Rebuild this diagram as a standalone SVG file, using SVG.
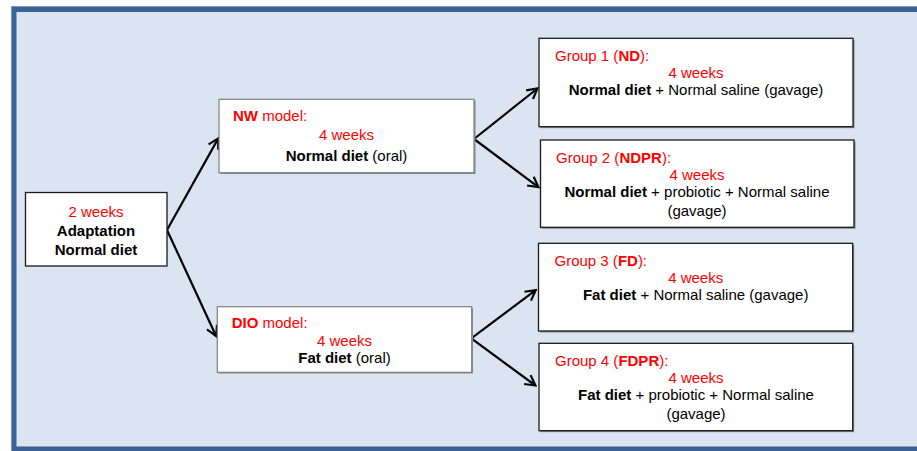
<svg xmlns="http://www.w3.org/2000/svg" width="917" height="451" viewBox="0 0 917 451">
<defs>
<style>
.t{font-family:"Liberation Sans",Arial,sans-serif;font-size:15px;fill:#000}
.r{fill:#ff0000}
.b{font-weight:bold}
.c{text-anchor:middle}
.gb{fill:#fff;stroke:#1a1a1a;stroke-width:1.3}
.mb{fill:#fff;stroke:#7f7f7f;stroke-width:1.2}
.sh{fill:#8c8c8c}
.cn{stroke:#000;stroke-width:2.2;fill:none;marker-end:url(#ah)}
</style>
<marker id="ah" viewBox="-12 -7 14 14" refX="0" refY="0" markerWidth="14" markerHeight="14" markerUnits="userSpaceOnUse" orient="auto">
<path d="M-10,-5.5 L0,0 L-10,5.5" fill="none" stroke="#000" stroke-width="2.2"/>
</marker>
</defs>
<rect x="0" y="0" width="917" height="451" fill="#fff"/>
<rect id="frame" x="13.75" y="9.25" width="915" height="440" fill="#dbe5f1" stroke="#3c6195" stroke-width="5.5"/>
<rect x="11.5" y="6.5" width="920" height="450" fill="none" stroke="#7d98bd" stroke-width="1"/>

<g id="connectors">
<line class="cn" x1="167" y1="230" x2="218.3" y2="138.4"/>
<line class="cn" x1="167" y1="230" x2="216.2" y2="336.2"/>
<line class="cn" x1="474" y1="139" x2="537.4" y2="88.5"/>
<line class="cn" x1="474" y1="139" x2="538.4" y2="187.1"/>
<line class="cn" x1="471.3" y1="338.3" x2="535.7" y2="290.2"/>
<line class="cn" x1="471.3" y1="338.3" x2="535.4" y2="385.5"/>
</g>

<g id="adaptation">
<rect class="gb" x="25.5" y="192.5" width="141.5" height="73.5"/>
<text class="t r c" x="96" y="216.5">2 weeks</text>
<text class="t b c" x="96" y="235.5">Adaptation</text>
<text class="t b c" x="96" y="254.5">Normal diet</text>
</g>

<g id="nw">
<rect class="sh" x="220.5" y="100.5" width="255" height="73.5"/>
<rect class="mb" x="219" y="99.3" width="255" height="73.4"/>
<text class="t r" x="233" y="120.5"><tspan class="b">NW</tspan> model:</text>
<text class="t r c" x="346.5" y="139.8">4 weeks</text>
<text class="t c" x="346.5" y="160.8"><tspan class="b">Normal diet</tspan> (oral)</text>
</g>

<g id="dio">
<rect class="sh" x="218.5" y="308" width="254.5" height="65.5"/>
<rect class="mb" x="217.3" y="306.7" width="254.4" height="65.6"/>
<text class="t r" x="231.7" y="328"><tspan class="b">DIO</tspan> model:</text>
<text class="t r c" x="344.5" y="345.5">4 weeks</text>
<text class="t c" x="344.5" y="362.8"><tspan class="b">Fat diet</tspan> (oral)</text>
</g>

<g id="group1">
<rect class="sh" x="540.5" y="39.8" width="314" height="88.4"/>
<rect class="gb" x="539" y="38.3" width="314" height="88.4"/>
<text class="t r" x="555" y="60.8">Group 1 (<tspan class="b">ND</tspan>):</text>
<text class="t r c" x="696" y="77.8">4 weeks</text>
<text class="t c" x="696" y="95.3"><tspan class="b">Normal diet</tspan> + Normal saline (gavage)</text>
</g>

<g id="group2">
<rect class="sh" x="541.5" y="141.5" width="314" height="87.3"/>
<rect class="gb" x="540.5" y="140" width="313.5" height="87.3"/>
<text class="t r" x="556" y="162.5">Group 2 (<tspan class="b">NDPR</tspan>):</text>
<text class="t r c" x="697" y="179.5">4 weeks</text>
<text class="t c" x="697" y="197"><tspan class="b">Normal diet</tspan> + probiotic + Normal saline</text>
<text class="t c" x="697" y="215.5">(gavage)</text>
</g>

<g id="group3">
<rect class="sh" x="539.8" y="244.8" width="314.4" height="87.7"/>
<rect class="gb" x="538.5" y="243.3" width="314.2" height="87.7"/>
<text class="t r" x="554.5" y="265.8">Group 3 (<tspan class="b">FD</tspan>):</text>
<text class="t r c" x="695.7" y="282.8">4 weeks</text>
<text class="t c" x="695.7" y="300.3"><tspan class="b">Fat diet</tspan> + Normal saline (gavage)</text>
</g>

<g id="group4">
<rect class="sh" x="540.2" y="344.8" width="314" height="87.4"/>
<rect class="gb" x="539" y="343.3" width="313.7" height="87.4"/>
<text class="t r" x="555" y="365.8">Group 4 (<tspan class="b">FDPR</tspan>):</text>
<text class="t r c" x="696" y="382.8">4 weeks</text>
<text class="t c" x="696" y="400.3"><tspan class="b">Fat diet</tspan> + probiotic + Normal saline</text>
<text class="t c" x="696" y="418.8">(gavage)</text>
</g>
</svg>
